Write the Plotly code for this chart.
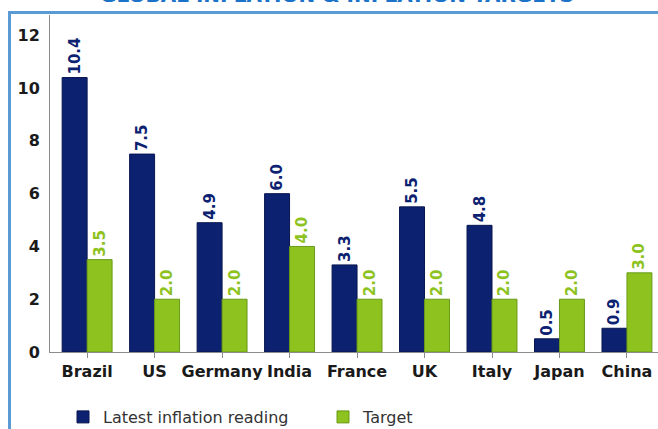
import plotly.graph_objects as go

# Inflation readings vs. central-bank targets (%)
countries = ["Brazil", "US", "Germany", "India", "France", "UK", "Italy", "Japan", "China"]
latest = [10.4, 7.5, 4.9, 6.0, 3.3, 5.5, 4.8, 0.5, 0.9]
target = [3.5, 2.0, 2.0, 4.0, 2.0, 2.0, 2.0, 2.0, 3.0]
y_ticks = [0, 2, 4, 6, 8, 10, 12]

NAVY = "#0c2170"
GREEN = "#8dc21f"
FRAME = "#5b9bd5"
W, H = 658, 429
FONT = "DejaVu Sans"


def px_x(p):
    return p / W


def px_y(p):
    return 1 - p / H


fig = go.Figure()
fig.add_trace(go.Bar(
    name="Latest inflation reading", x=countries, y=latest,
    marker=dict(color=NAVY, line=dict(color="#081650", width=1)),
    text=[f"{v:.1f}" for v in latest], textposition="outside", textangle=-90,
    constraintext="none",
    textfont=dict(family=FONT, size=15, color=NAVY, weight="bold"),
    cliponaxis=False,
))
fig.add_trace(go.Bar(
    name="Target", x=countries, y=target,
    marker=dict(color=GREEN, line=dict(color="#6a9a1a", width=1)),
    text=[f"{v:.1f}" for v in target], textposition="outside", textangle=-90,
    constraintext="none",
    textfont=dict(family=FONT, size=15, color=GREEN, weight="bold"),
    cliponaxis=False,
))

fig.update_layout(
    width=W, height=H,
    margin=dict(l=0, r=0, t=0, b=0, autoexpand=False),
    paper_bgcolor="white", plot_bgcolor="white",
    font=dict(family=FONT, color="#222222"),
    barmode="group", bargap=0.26, bargroupgap=0,
    showlegend=True,
    legend=dict(
        orientation="h", x=px_x(63), y=px_y(417), xanchor="left", yanchor="middle",
        font=dict(family=FONT, size=16, color="#333333"),
        itemwidth=30, tracegroupgap=0,
        entrywidth=215, entrywidthmode="pixels",
    ),
    xaxis=dict(
        domain=[px_x(50), 1], range=[-0.55, 8.46], automargin=False,
        showline=True, linecolor="#8c8c8c", linewidth=1,
        ticks="outside", ticklen=5, tickcolor="#8c8c8c",
        tickfont=dict(family=FONT, size=16, color="#1a1a1a", weight="bold"),
        showgrid=False,
    ),
    yaxis=dict(
        domain=[px_y(352), px_y(15)], range=[0, 12.77], automargin=False,
        tickvals=y_ticks,
        showline=True, linecolor="#8c8c8c", linewidth=1,
        ticks="", ticklabelstandoff=6,
        tickfont=dict(family=FONT, size=16, color="#1a1a1a", weight="bold"),
        showgrid=False, zeroline=False,
    ),
    shapes=[
        dict(type="line", xref="paper", yref="paper",
             x0=px_x(8), x1=1, y0=px_y(12.5), y1=px_y(12.5),
             line=dict(color=FRAME, width=3)),
        dict(type="line", xref="paper", yref="paper",
             x0=px_x(9.5), x1=px_x(9.5), y0=px_y(11), y1=0,
             line=dict(color=FRAME, width=3)),
    ],
    annotations=[
        dict(text="GLOBAL INFLATION & INFLATION TARGETS", xref="paper", yref="paper",
             x=px_x(337), y=px_y(9), xanchor="center", yanchor="bottom",
             showarrow=False,
             font=dict(family=FONT, size=20, color="#1a73c8", weight="bold")),
    ],
)

fig.write_html("out.html")
